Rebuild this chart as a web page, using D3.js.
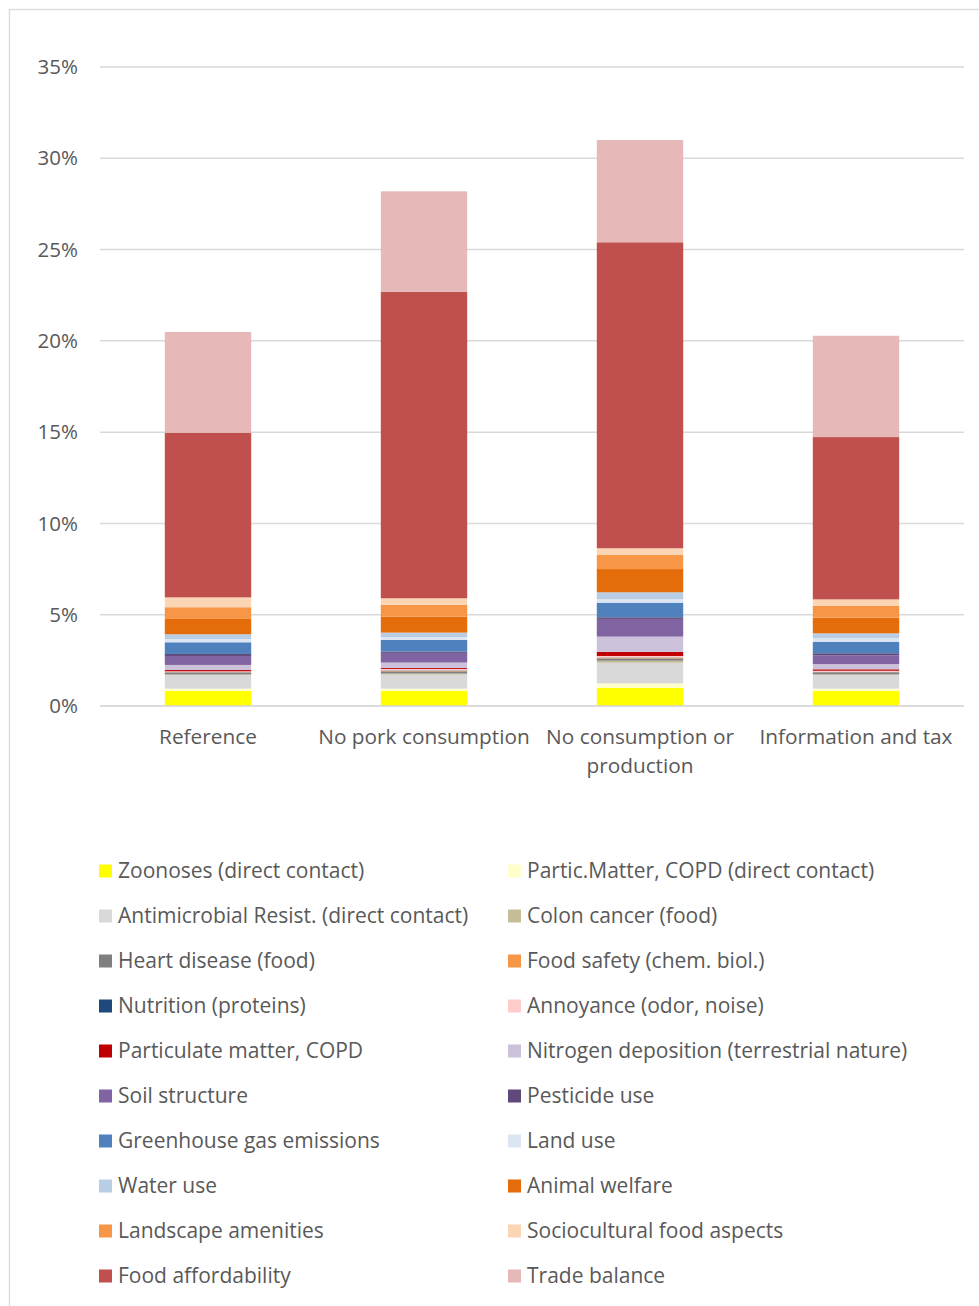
<!DOCTYPE html>
<html>
<head>
<meta charset="utf-8">
<script src="https://cdn.jsdelivr.net/npm/d3@7"></script>
<style>
  html, body { margin: 0; padding: 0; background: #fff; }
  svg { display: block; }
  text { font-family: "Open Sans", Lato, sans-serif; fill: #595959; }
</style>
</head>
<body>
<svg id="chart" width="979" height="1306"></svg>
<script>
// Scenarios along the x axis
const categories = ["Reference", "No pork consumption", "No consumption or production", "Information and tax"];
const categoryLines = [["Reference"], ["No pork consumption"], ["No consumption or", "production"], ["Information and tax"]];

// Impact categories, stacked bottom to top (share in %)
const seriesNames = [
  "Zoonoses (direct contact)", "Partic.Matter, COPD (direct contact)",
  "Antimicrobial Resist. (direct contact)", "Colon cancer (food)",
  "Heart disease (food)", "Food safety (chem. biol.)",
  "Nutrition (proteins)", "Annoyance (odor, noise)",
  "Particulate matter, COPD", "Nitrogen deposition (terrestrial nature)",
  "Soil structure", "Pesticide use",
  "Greenhouse gas emissions", "Land use",
  "Water use", "Animal welfare",
  "Landscape amenities", "Sociocultural food aspects",
  "Food affordability", "Trade balance"
];
const seriesColors = [
  "#FFFF00", "#FFFFCC", "#D9D9D9", "#C4BD97", "#7F7F7F", "#F79646", "#1F497D", "#FFCCCC",
  "#C00000", "#CCC1DA", "#8064A2", "#604A7B", "#4F81BD", "#DCE6F2", "#B9CDE5", "#E46C0A",
  "#F79646", "#FCD5B5", "#C0504D", "#E6B9B8"
];

// Values per series, one entry per scenario
const zoonoses        = [0.82, 0.82, 1.00, 0.82];
const particDirect    = [0.13, 0.13, 0.24, 0.13];
const antimicrobial   = [0.74, 0.77, 1.13, 0.75];
const colonCancer     = [0.04, 0.06, 0.11, 0.04];
const heartDisease    = [0.08, 0.12, 0.13, 0.08];
const foodSafety      = [0.02, 0.03, 0.03, 0.02];
const nutrition       = [0.02, 0.02, 0.02, 0.02];
const annoyance       = [0.05, 0.08, 0.08, 0.07];
const particulate     = [0.07, 0.05, 0.23, 0.08];
const nitrogen        = [0.28, 0.30, 0.83, 0.29];
const soilStructure   = [0.49, 0.53, 0.97, 0.48];
const pesticide       = [0.11, 0.07, 0.09, 0.11];
const greenhouseGas   = [0.64, 0.64, 0.80, 0.63];
const landUse         = [0.18, 0.16, 0.20, 0.19];
const waterUse        = [0.26, 0.24, 0.37, 0.27];
const animalWelfare   = [0.84, 0.88, 1.27, 0.86];
const landscape       = [0.64, 0.64, 0.77, 0.64];
const sociocultural   = [0.54, 0.36, 0.37, 0.36];
const affordability   = [9.02, 16.79, 16.76, 8.89];
const tradeBalance    = [5.52, 5.50, 5.60, 5.55];

const seriesValues = [
  zoonoses, particDirect, antimicrobial, colonCancer, heartDisease, foodSafety,
  nutrition, annoyance, particulate, nitrogen, soilStructure, pesticide,
  greenhouseGas, landUse, waterUse, animalWelfare, landscape, sociocultural,
  affordability, tradeBalance
];

const yTicks = [0, 5, 10, 15, 20, 25, 30, 35];

// Build table rows for the stack layout
const rows = categories.map((c, i) => {
  const r = { category: c };
  seriesNames.forEach((s, k) => { r[s] = seriesValues[k][i]; });
  return r;
});
const stacked = d3.stack().keys(seriesNames)(rows);

const svg = d3.select("#chart");

// Chart frame
svg.append("rect")
  .attr("x", 9.5).attr("y", 9.5)
  .attr("width", 1000).attr("height", 1400)
  .attr("fill", "none").attr("stroke", "#D9D9D9").attr("stroke-width", 1.3);

const x = d3.scaleBand().domain(categories).range([100, 964]).paddingInner(0.6).paddingOuter(0.3);
const y = d3.scaleLinear().domain([0, 35]).range([706, 67]);

// Gridlines
svg.append("g").selectAll("line").data(yTicks).join("line")
  .attr("x1", 100).attr("x2", 964)
  .attr("y1", d => y(d)).attr("y2", d => y(d))
  .attr("stroke", "#D9D9D9").attr("stroke-width", 1.5);

// Y tick labels
svg.append("g").selectAll("text").data(yTicks).join("text")
  .attr("x", 78).attr("y", d => y(d))
  .attr("dy", "0.35em")
  .attr("text-anchor", "end")
  .style("font-size", "20.5px")
  .text(d => d + "%");

// Stacked bars
svg.append("g").selectAll("g").data(stacked).join("g")
  .attr("fill", (d, i) => seriesColors[i])
  .selectAll("rect").data(d => d).join("rect")
  .attr("x", d => x(d.data.category))
  .attr("width", x.bandwidth())
  .attr("y", d => y(d[1]))
  .attr("height", d => Math.max(0, y(d[0]) - y(d[1])));

// Base line redrawn over bars
svg.append("line")
  .attr("x1", 100).attr("x2", 964)
  .attr("y1", y(0)).attr("y2", y(0))
  .attr("stroke", "#D9D9D9").attr("stroke-width", 1.5);

// Category labels
const xl = svg.append("g").selectAll("text").data(categories).join("text")
  .attr("x", d => x(d) + x.bandwidth() / 2)
  .attr("y", 744)
  .attr("text-anchor", "middle")
  .style("font-size", "20.8px");
xl.selectAll("tspan").data((d, i) => categoryLines[i]).join("tspan")
  .attr("x", function () { return d3.select(this.parentNode).attr("x"); })
  .attr("dy", (d, j) => j === 0 ? 0 : 29)
  .text(d => d);

// Legend, two columns, row by row
const legend = svg.append("g").selectAll("g").data(seriesNames).join("g")
  .attr("transform", (d, i) => `translate(${i % 2 === 0 ? 99 : 508},${871 + Math.floor(i / 2) * 45})`);
legend.append("rect")
  .attr("x", 0).attr("y", -6.5).attr("width", 13).attr("height", 13)
  .attr("fill", (d, i) => seriesColors[i]);
legend.append("text")
  .attr("x", 19).attr("y", 0).attr("dy", "0.35em")
  .style("font-size", "21px")
  .text(d => d);
</script>
</body>
</html>
